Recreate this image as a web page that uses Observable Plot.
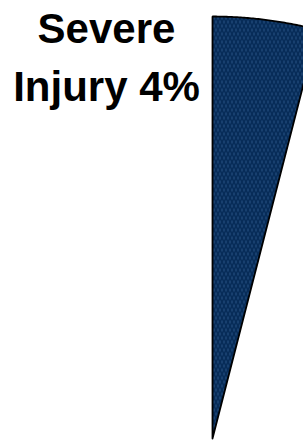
<!DOCTYPE html>
<html>
<head>
<meta charset="utf-8">
<script src="https://cdn.jsdelivr.net/npm/d3@7"></script>
<script src="https://cdn.jsdelivr.net/npm/@observablehq/plot@0.6"></script>
<style>
  html, body { margin: 0; padding: 0; background: #fff; overflow: hidden; }
  #chart svg { display: block; }
</style>
</head>
<body>
<div id="chart"></div>
<script>
// Data
const categories = ["Severe Injury"];
const shares = [4]; // percent
const labels = ["Severe\nInjury 4%"];

// Build wedge outline (in unit-radius pie coordinates) from the share
const startAngle = 0;
const endAngle = startAngle + 2 * Math.PI * shares[0] / 100;
const steps = 60;
const wedge = [{x: 0, y: 0}];
for (let i = 0; i <= steps; i++) {
  const a = startAngle + (endAngle - startAngle) * i / steps;
  wedge.push({x: Math.sin(a), y: Math.cos(a)});
}
wedge.push({x: 0, y: 0});

const W = 303, H = 441;
const R = 422, cx = 212, cy = 438;

const chart = Plot.plot({
  width: W,
  height: H,
  margin: 0,
  x: {domain: [-cx / R, (W - cx) / R], axis: null},
  y: {domain: [-(H - cy) / R, cy / R], axis: null},
  marks: [
    Plot.line(wedge, {
      x: "x", y: "y",
      fill: "url(#hatch)",
      stroke: "#000",
      strokeWidth: 1.8,
      strokeLinejoin: "miter",
      curve: "linear"
    }),
    Plot.text(labels, {
      text: d => d,
      frameAnchor: "top-left",
      dx: 106,
      dy: 1,
      lineAnchor: "top",
      textAnchor: "middle",
      fontFamily: "Liberation Sans, Arial, sans-serif",
      fontWeight: "bold",
      fontSize: 42,
      lineHeight: 1.38,
      fill: "#000"
    })
  ]
});

// Hatched fill pattern
const ns = "http://www.w3.org/2000/svg";
const defs = document.createElementNS(ns, "defs");
defs.innerHTML = `
  <pattern id="hatch" patternUnits="userSpaceOnUse" width="4" height="8">
    <rect width="4" height="8" fill="#072c58"/>
    <rect x="1" y="0" width="1" height="3" fill="#4a7cb4" opacity="0.5"/>
    <rect x="3" y="4" width="1" height="3" fill="#4a7cb4" opacity="0.5"/>
  </pattern>`;
chart.insertBefore(defs, chart.firstChild);

document.getElementById("chart").appendChild(chart);
</script>
</body>
</html>
